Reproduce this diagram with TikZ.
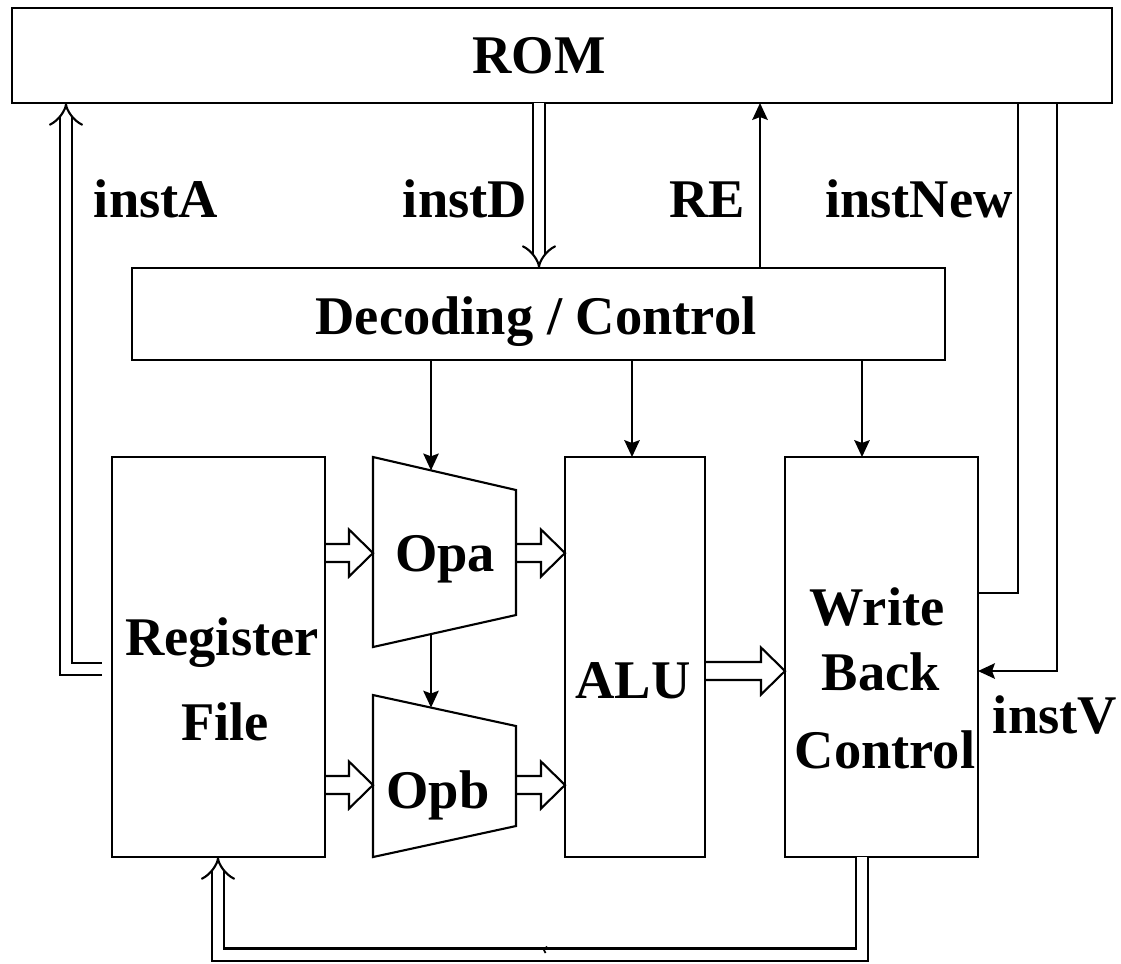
\documentclass[tikz,border=0pt]{standalone}
\usepackage{fontspec}
\setmainfont{Liberation Serif}
\usetikzlibrary{arrows.meta,calc}
\newcommand\blkarr[2]{\draw[ln, line join=miter] ($(#1)+(0,0.09)$) -- ($(#2)+(-0.24,0.09)$) -- ($(#2)+(-0.24,0.235)$) -- (#2) -- ($(#2)+(-0.24,-0.235)$) -- ($(#2)+(-0.24,-0.09)$) -- ($(#1)+(0,-0.09)$);}
\begin{document}
\begin{tikzpicture}[
  ln/.style={line width=0.6pt},
  box/.style={draw, line width=0.6pt, inner sep=0pt, outer sep=0pt},
  lbl/.style={font=\fontsize{15.5}{18}\selectfont\bfseries, inner sep=0pt, anchor=base},
  arr/.style={ln, -{Stealth[length=4.8pt,width=4.4pt,inset=0.8pt]}},
  dbl/.style={double, line width=0.6pt, double distance=1mm, line join=miter, -{Implies}}
]
\useasboundingbox (0,0) rectangle (11.21,-9.63);
% boxes
\node[box, minimum width=11.0cm, minimum height=0.95cm] (rom) at (5.62,-0.555) {};
\node[box, minimum width=8.13cm, minimum height=0.92cm] (dec) at (5.385,-3.14) {};
\node[box, minimum width=2.13cm, minimum height=4.0cm] (rf) at (2.185,-6.57) {};
\node[box, minimum width=1.40cm, minimum height=4.0cm] (alu) at (6.35,-6.57) {};
\node[box, minimum width=1.93cm, minimum height=4.0cm] (wb) at (8.815,-6.57) {};
% trapezoids
\coordinate (opaTL) at (3.73,-4.57);
\coordinate (opaTR) at (5.16,-4.90);
\coordinate (opaBR) at (5.16,-6.15);
\coordinate (opaBL) at (3.73,-6.47);
\coordinate (opbTL) at (3.73,-6.95);
\coordinate (opbTR) at (5.16,-7.26);
\coordinate (opbBR) at (5.16,-8.26);
\coordinate (opbBL) at (3.73,-8.57);
\draw[ln] (opaTL) -- (opaTR) -- (opaBR) -- (opaBL) -- cycle;
\draw[ln] (opbTL) -- (opbTR) -- (opbBR) -- (opbBL) -- cycle;
\coordinate (opaIn) at ($(opaTL)!0.4056!(opaTR)$);
\coordinate (opaOut) at ($(opaBL)!0.4056!(opaBR)$);
\coordinate (opbIn) at ($(opbTL)!0.4056!(opbTR)$);
% texts
\node[lbl] (tROM) at (5.39,-0.73) {ROM};
\node[lbl] (tDec) at (5.36,-3.34) {Decoding / Control};
\node[lbl] (tReg) at (2.22,-6.55) {Register};
\node[lbl] (tFile) at (2.25,-7.40) {File};
\node[lbl] (tOpa) at (4.45,-5.71) {Opa};
\node[lbl] (tOpb) at (4.38,-8.08) {Opb};
\node[lbl] (tALU) at (6.33,-6.98) {ALU};
\node[lbl] (tW) at (8.77,-6.25) {Write};
\node[lbl] (tB) at (8.81,-6.90) {Back};
\node[lbl] (tC) at (8.85,-7.68) {Control};
\node[lbl] (lA) at (1.56,-2.17) {instA};
\node[lbl] (lD) at (4.65,-2.17) {instD};
\node[lbl] (lRE) at (7.07,-2.17) {RE};
\node[lbl] (lN) at (9.19,-2.17) {instNew};
\node[lbl] (lV) at (10.55,-7.33) {instV};
% control arrows
\draw[arr] (dec.south -| opaIn) -- (opaIn);
\draw[arr] (dec.south -| 6.32,0) -- (alu.north -| 6.32,0);
\draw[arr] (dec.south -| 8.62,0) -- (wb.north -| 8.62,0);
\draw[arr] (opaOut) -- (opbIn);
\draw[arr] (dec.north -| 7.60,0) -- (rom.south -| 7.60,0);
% instNew and instV
\draw[ln] (wb.east |- 0,-5.93) -- (10.18,-5.93) -- (rom.south -| 10.18,0);
\draw[arr] (rom.south -| 10.57,0) -- (10.57,-6.71) -- (wb.east |- 0,-6.71);
% double buses
\draw[dbl] ($(rf.west |- 0,-6.69)+(-0.10,0)$) -- (0.66,-6.69) -- (rom.south -| 0.66,0);
\draw[dbl] (rom.south -| 5.39,0) -- (dec.north -| 5.39,0);
\draw[dbl] (wb.south -| 8.62,0) -- (8.62,-9.545) -- (2.18,-9.545) -- (rf.south -| 2.18,0);
\draw[line width=0.5pt] (5.47,-9.465) -- (5.44,-9.50) -- (5.455,-9.53);
% block arrows
\coordinate (r1a) at (rf.east |- 0,-5.53);
\coordinate (r1b) at (opaTL |- 0,-5.53);
\coordinate (r2a) at (opaTR |- 0,-5.53);
\coordinate (r2b) at (alu.west |- 0,-5.53);
\coordinate (r3a) at (rf.east |- 0,-7.85);
\coordinate (r3b) at (opbTL |- 0,-7.85);
\coordinate (r4a) at (opbTR |- 0,-7.85);
\coordinate (r4b) at (alu.west |- 0,-7.85);
\coordinate (r5a) at (alu.east |- 0,-6.71);
\coordinate (r5b) at (wb.west |- 0,-6.71);
\blkarr{r1a}{r1b}
\blkarr{r2a}{r2b}
\blkarr{r3a}{r3b}
\blkarr{r4a}{r4b}
\blkarr{r5a}{r5b}
\end{tikzpicture}
\end{document}
